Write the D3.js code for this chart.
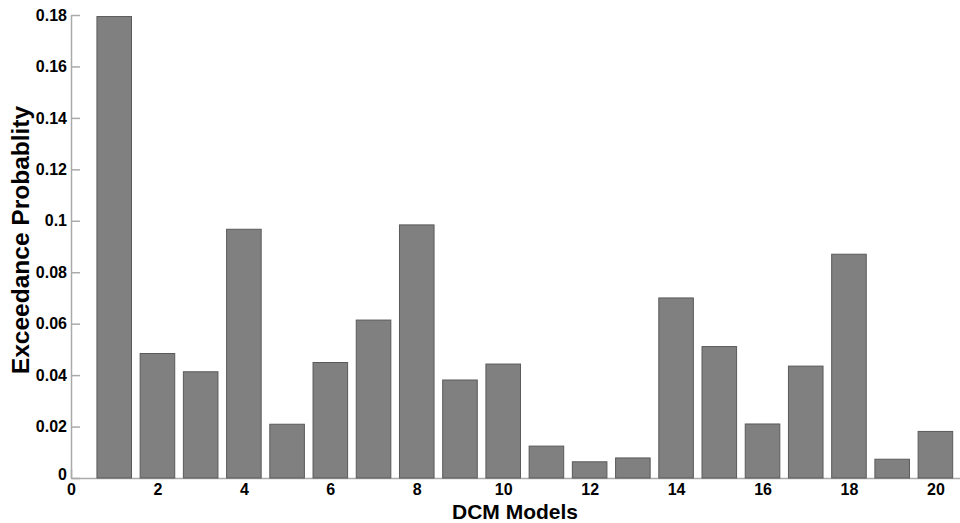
<!DOCTYPE html>
<html>
<head>
<meta charset="utf-8">
<script src="https://cdn.jsdelivr.net/npm/d3@7"></script>
<style>
  body { margin: 0; background: #fff; }
  svg { display: block; font-family: "Liberation Sans", Arial, Helvetica, sans-serif; }
  .tick text { font-weight: bold; font-size: 16px; fill: #000; }
  .axis-title { font-weight: bold; fill: #000; }
</style>
</head>
<body>
<svg id="chart" width="960" height="523"></svg>
<script>
const models = [1, 2, 3, 4, 5, 6, 7, 8, 9, 10, 11, 12, 13, 14, 15, 16, 17, 18, 19, 20]
const exceedance = [0.1794, 0.0484, 0.0413, 0.0967, 0.0209, 0.0449, 0.0614, 0.0984, 0.0381, 0.0443,
    0.0124, 0.0063, 0.0078, 0.0700, 0.0511, 0.0210, 0.0435, 0.0870, 0.0073, 0.0181]
const xTicks = [0, 2, 4, 6, 8, 10, 12, 14, 16, 18, 20]
const yTicks = [0, 0.02, 0.04, 0.06, 0.08, 0.1, 0.12, 0.14, 0.16, 0.18]

const svg = d3.select('#chart')
const left = 71
const bottom = 478
const unit = 43.22

const x = d3.scaleLinear().domain([0, 21]).range([left, left + 21 * unit])
const y = d3.scaleLinear().domain([0, 0.18]).range([bottom, 15])
const barWidth = 0.8 * unit

// y axis, ticks pointing inward like matlab
const yAxis = svg.append('g')
    .attr('transform', `translate(${left},0)`)
    .call(d3.axisLeft(y).tickValues(yTicks).tickSizeInner(-9).tickSizeOuter(0).tickPadding(4)
        .tickFormat(d => d === 0 ? '0' : String(+d.toFixed(2))))
yAxis.select('.domain').attr('stroke', '#aaa').attr('stroke-width', 1.5)
yAxis.selectAll('.tick line').attr('stroke', '#aaa').attr('stroke-width', 1.5)
yAxis.selectAll('.tick text').filter(d => d === 0).attr('dy', '0.1em')

const xAxis = svg.append('g')
    .attr('transform', `translate(0,${bottom})`)
    .call(d3.axisBottom(x).tickValues(xTicks).tickSizeInner(-9).tickSizeOuter(0).tickPadding(6))
xAxis.select('.domain').attr('stroke', '#aaa').attr('stroke-width', 1.5)
xAxis.selectAll('.tick line').attr('stroke', '#aaa').attr('stroke-width', 1.5)

svg.append('g').selectAll('rect')
    .data(models)
    .join('rect')
    .attr('x', (d) => x(d) - barWidth / 2)
    .attr('y', (d, i) => y(exceedance[i]))
    .attr('width', barWidth)
    .attr('height', (d, i) => bottom - y(exceedance[i]))
    .attr('fill', '#808080')
    .attr('stroke', '#5a5a5a')
    .attr('stroke-width', 1)

svg.append('text')
    .attr('class', 'axis-title')
    .attr('x', 515)
    .attr('y', 518.5)
    .attr('text-anchor', 'middle')
    .style('font-size', '21px')
    .text('DCM Models')

svg.append('text')
    .attr('class', 'axis-title')
    .attr('transform', 'translate(29,240) rotate(-90)')
    .attr('text-anchor', 'middle')
    .style('font-size', '24.5px')
    .text('Exceedance Probablity')
</script>
</body>
</html>
